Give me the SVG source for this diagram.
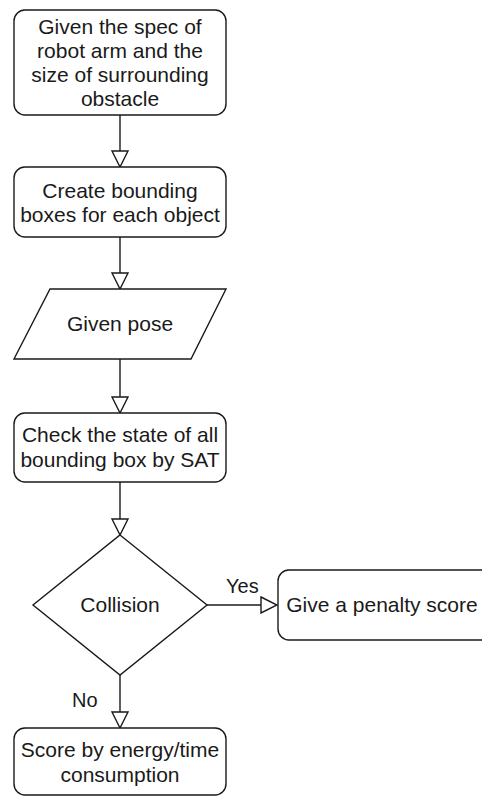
<svg xmlns="http://www.w3.org/2000/svg" width="482" height="796" viewBox="0 0 482 796">
<style>
.n{fill:#fff;stroke:#1a1a1a;stroke-width:1.4}
.t{font-family:"Liberation Sans",Arial,sans-serif;font-size:21px;fill:#1a1a1a;text-anchor:middle}
.l{font-family:"Liberation Sans",Arial,sans-serif;font-size:20px;fill:#1a1a1a}
.c{fill:none;stroke:#1a1a1a;stroke-width:1.4}
</style>
<defs>
<marker id="ah" markerUnits="userSpaceOnUse" markerWidth="18" markerHeight="18" refX="16" refY="8" orient="auto" viewBox="-1 -1 18 18">
<path d="M0,0 L16,8 L0,16 Z" fill="#fff" stroke="#1a1a1a" stroke-width="1.4"/>
</marker>
</defs>
<rect width="482" height="796" fill="#fff"/>
<g id="connectors">
<line class="c" x1="120" y1="115" x2="120" y2="167" marker-end="url(#ah)"/>
<line class="c" x1="120" y1="237" x2="120" y2="289" marker-end="url(#ah)"/>
<line class="c" x1="120" y1="359" x2="120" y2="413" marker-end="url(#ah)"/>
<line class="c" x1="120" y1="482" x2="120" y2="535" marker-end="url(#ah)"/>
<line class="c" x1="207" y1="605" x2="277" y2="605" marker-end="url(#ah)"/>
<line class="c" x1="120" y1="675" x2="120" y2="728" marker-end="url(#ah)"/>
<text class="l" x="226" y="593">Yes</text>
<text class="l" x="72" y="707">No</text>
</g>
<g id="start">
<rect class="n" x="14" y="10" width="212" height="105" rx="11"/>
<text class="t" x="120" y="34">Given the spec of</text>
<text class="t" x="120" y="58">robot arm and the</text>
<text class="t" x="120" y="82">size of surrounding</text>
<text class="t" x="120" y="106">obstacle</text>
</g>
<g id="bbox">
<rect class="n" x="14" y="167" width="212" height="70" rx="11"/>
<text class="t" x="120" y="198">Create bounding</text>
<text class="t" x="120" y="222">boxes for each object</text>
</g>
<g id="pose">
<polygon class="n" points="50,289 226,289 191,359 14,359"/>
<text class="t" x="120" y="331">Given pose</text>
</g>
<g id="check">
<rect class="n" x="14" y="413" width="212" height="69" rx="11"/>
<text class="t" x="120" y="442">Check the state of all</text>
<text class="t" x="120" y="467">bounding box by SAT</text>
</g>
<g id="collision">
<polygon class="n" points="120,535 207,605 120,675 33,605"/>
<text class="t" x="120" y="612">Collision</text>
</g>
<g id="penalty">
<rect class="n" x="278" y="570" width="215" height="70" rx="11"/>
<text class="t" x="382" y="612">Give a penalty score</text>
</g>
<g id="score">
<rect class="n" x="14" y="728" width="212" height="67" rx="11"/>
<text class="t" x="120" y="757">Score by energy/time</text>
<text class="t" x="120" y="782">consumption</text>
</g>
</svg>
